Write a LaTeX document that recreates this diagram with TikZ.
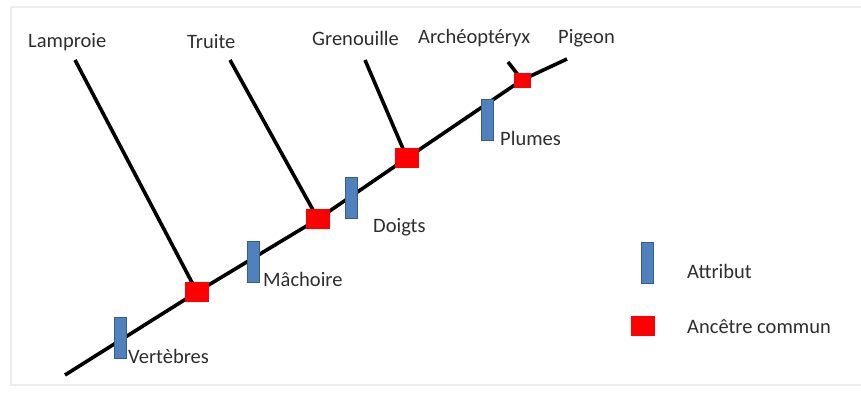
\documentclass[tikz,border=0pt]{standalone}
\usepackage{fontspec}
\setmainfont{Carlito}
\usetikzlibrary{backgrounds}
\definecolor{attrblue}{HTML}{4F81BD}
\definecolor{attredge}{HTML}{385D8A}
\definecolor{txt}{HTML}{2E2E2E}
\tikzset{
  ancestor/.style={rectangle, fill=red, draw=none, minimum width=24pt, minimum height=20pt, inner sep=0pt},
  smallancestor/.style={ancestor, minimum width=17pt, minimum height=15pt},
  attr/.style={rectangle, fill=attrblue, draw=attredge, line width=0.8pt, minimum width=12pt, minimum height=41pt, inner sep=0pt},
  lbl/.style={anchor=base west, inner sep=0pt, text=txt, font=\fontsize{20.5}{23}\selectfont},
  branch/.style={line width=3.6pt, black},
}
\begin{document}
\begin{tikzpicture}[x=1pt, y=-1pt]
\useasboundingbox (0,0) rectangle (861,392);
% ancestors
\node[ancestor] (a1) at (197,292) {};
\node[ancestor] (a2) at (318,219) {};
\node[ancestor] (a3) at (407,158) {};
\node[smallancestor] (a4) at (522,80) {};
% line ends
\coordinate (root) at (65,375);
\coordinate (lamp) at (75,60);
\coordinate (trui) at (230,60);
\coordinate (gren) at (365,60);
\coordinate (arch) at (508,62);
\coordinate (pige) at (567,59);
% leaf labels
\node[lbl] (tLamp) at (28,47) {Lamproie};
\node[lbl] (tTrui) at (187,48) {Truite};
\node[lbl] (tGren) at (312,45) {Grenouille};
\node[lbl] (tArch) at (418,43) {Archéoptéryx};
\node[lbl] (tPige) at (558,43) {Pigeon};
% attribute bars
\node[attr] (b1) at (120,338) {};
\node[attr] (b2) at (253,262) {};
\node[attr] (b3) at (351,198) {};
\node[attr] (b4) at (487,120) {};
\node[lbl] (tb1) at (128,363) {Vertèbres};
\node[lbl] (tb2) at (263,286) {Mâchoire};
\node[lbl] (tb3) at (373,232) {Doigts};
\node[lbl] (tb4) at (500,145) {Plumes};
% legend
\node[attr] (lb) at (647,263) {};
\node[lbl] (tlb) at (687,278) {Attribut};
\node[ancestor] (la) at (643,326) {};
\node[lbl] (tla) at (687,333) {Ancêtre commun};
% connectors and frame behind the nodes
\begin{scope}[on background layer]
\fill[white] (0,0) rectangle (861,392);
\draw[gray!15, line width=2pt] (11,7) -- (861,7);
\draw[gray!15, line width=2pt] (11,7) -- (11,385) -- (861,385);
\draw[branch] (root) -- (a1.center) -- (a2.center) -- (a3.center) -- (a4.center) -- (pige);
\draw[branch] (lamp) -- (a1.center);
\draw[branch] (trui) -- (a2.center);
\draw[branch] (gren) -- (a3.center);
\draw[branch] (arch) -- (a4.center);
\end{scope}
\end{tikzpicture}
\end{document}
